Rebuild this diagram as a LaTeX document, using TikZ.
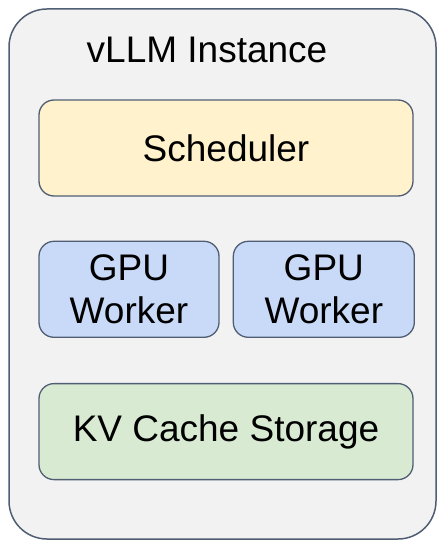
\documentclass[tikz,border=0pt]{standalone}
\usepackage{fontspec}
\setmainfont{Liberation Sans}
\usetikzlibrary{positioning}
\definecolor{edgecol}{RGB}{80,94,116}
\definecolor{instfill}{RGB}{242,242,242}
\definecolor{schedfill}{RGB}{255,242,204}
\definecolor{gpufill}{RGB}{201,218,248}
\definecolor{kvfill}{RGB}{217,234,211}
\tikzset{
  box/.style={draw=edgecol, line width=1.3pt, rounded corners=15pt,
    inner sep=0pt, align=center, font=\fontsize{37}{43}\selectfont},
}

\begin{document}
\begin{tikzpicture}[x=1pt, y=-1pt]
    \useasboundingbox (0,0) rectangle (437,540);
    \node[draw=edgecol, fill=instfill, line width=1.5pt, rounded corners=38pt,
      minimum width=427pt, minimum height=530pt, inner sep=0pt]
      (inst) at (222.5,274) {};
    \node[font=\fontsize{37}{43}\selectfont] (title) at (207,50) {vLLM Instance};
    \node[box, fill=schedfill, minimum width=374pt, minimum height=96pt]
      (sched) at (226,148) {Scheduler};
    \node[box, fill=gpufill, minimum width=180pt, minimum height=96pt,
      below right=44pt and 0pt of sched.south west]
      (gpuA) {GPU\\Worker};
    \node[box, fill=gpufill, minimum width=181pt, minimum height=96pt,
      right=13pt of gpuA]
      (gpuB) {GPU\\Worker};
    \node[box, fill=kvfill, minimum width=374pt, minimum height=96pt,
      below right=45pt and 0pt of gpuA.south west]
      (kv) {KV Cache Storage};
  \end{tikzpicture}
\end{document}
